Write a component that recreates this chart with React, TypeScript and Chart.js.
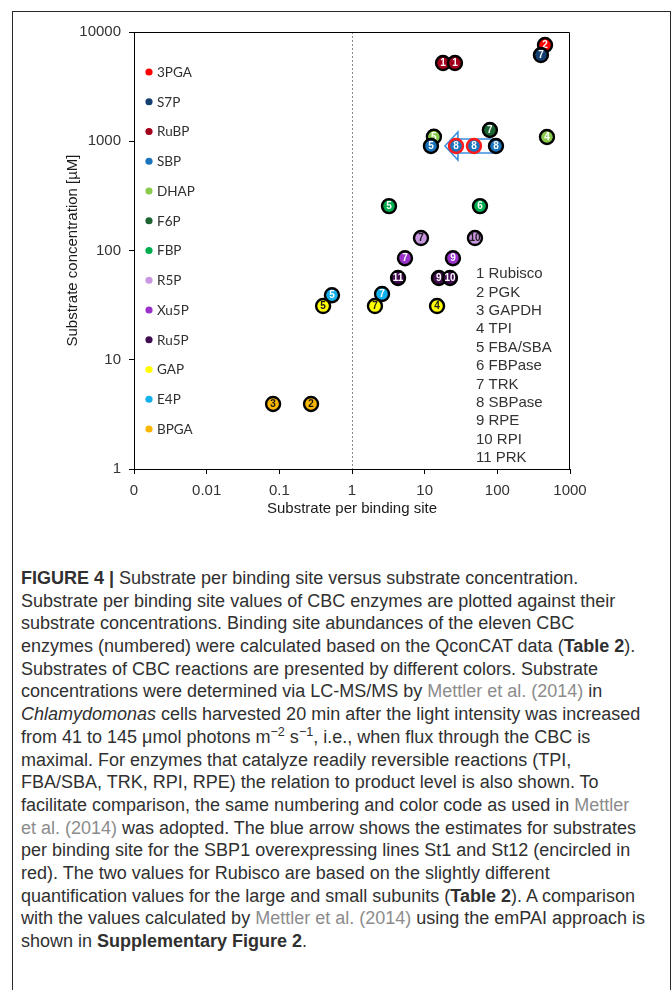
import React, { useEffect, useRef } from 'react';
import { Chart, registerables } from 'chart.js';

Chart.register(...registerables);

// ---------- data ----------
const substrateNames = ['3PGA', 'S7P', 'RuBP', 'SBP', 'DHAP', 'F6P', 'FBP', 'R5P', 'Xu5P', 'Ru5P', 'GAP', 'E4P', 'BPGA'];
const enzymeNames = ['Rubisco', 'PGK', 'GAPDH', 'TPI', 'FBA/SBA', 'FBPase', 'TRK', 'SBPase', 'RPE', 'RPI', 'PRK'];

const pointSubstrate = ['3PGA', 'S7P', 'RuBP', 'RuBP', 'DHAP', 'DHAP', 'F6P', 'SBP', 'SBP', 'SBP', 'SBP', 'FBP', 'FBP', 'R5P', 'R5P', 'Xu5P', 'Xu5P', 'Ru5P', 'Ru5P', 'Ru5P', 'E4P', 'E4P', 'GAP', 'GAP', 'GAP', 'BPGA', 'BPGA'];
const pointEnzyme = [2, 7, 1, 1, 5, 4, 7, 5, 8, 8, 8, 5, 6, 7, 10, 7, 9, 11, 9, 10, 5, 7, 5, 7, 4, 3, 2];
const pointX = [453, 398, 17.9, 26.1, 13.4, 482, 79, 12.2, 27, 47.7, 95.8, 3.23, 57.7, 8.9, 49.2, 5.36, 24.5, 4.3, 15.7, 22.3, 0.53, 2.59, 0.4, 2.07, 14.8, 0.082, 0.273];
const pointY = [7600, 6150, 5200, 5200, 1100, 1094, 1268, 905, 905, 905, 905, 255, 255, 130, 130, 85, 85, 56, 56, 56, 39, 40, 31, 31, 31, 3.94, 3.94];
const overexpressingLine = [false, false, false, false, false, false, false, false, true, true, false, false, false, false, false, false, false, false, false, false, false, false, false, false, false, false, false];

// SBP1 overexpression arrow (from wild-type SBPase value towards lower values)
const arrowTailX = 95.8;
const arrowTipX = 19;
const arrowY = 905;

const xTickValues = [0.001, 0.01, 0.1, 1, 10, 100, 1000];
const xTickLabels = ['0', '0.01', '0.1', '1', '10', '100', '1000'];
const yTickValues = [1, 10, 100, 1000, 10000];
const yTickLabels = ['1', '10', '100', '1000', '10000'];

// ---------- styles ----------
const substrateColors = ['#ff0000', '#143f72', '#a3001c', '#1a73bd', '#8acb4d', '#1c6431', '#00ad4e', '#c897e0', '#9a31c9', '#420c50', '#ffff00', '#12b0ec', '#f9b700'];
const substrateTextColors = ['#fff', '#fff', '#fff', '#fff', '#fff', '#fff', '#fff', '#1a1a1a', '#fff', '#fff', '#1a1a1a', '#fff', '#1a1a1a'];
const drawOrder = ['3PGA', 'S7P', 'RuBP', 'DHAP', 'F6P', 'SBP', 'FBP', 'R5P', 'Xu5P', 'Ru5P', 'E4P', 'GAP', 'BPGA'];

const AXIS_FONT = 'Liberation Sans, Arial, sans-serif';

const overlayPlugin = {
  id: 'overlay',
  beforeDatasetsDraw(chart: any) {
    const { ctx, chartArea, scales } = chart;
    const xs = scales.x;
    const ys = scales.y;
    ctx.save();
    // dashed line at x = 1
    const xd = Math.round(xs.getPixelForValue(1)) + 0.5;
    ctx.strokeStyle = '#8a8a8a';
    ctx.lineWidth = 1;
    ctx.setLineDash([2, 2]);
    ctx.beginPath();
    ctx.moveTo(xd, chartArea.top);
    ctx.lineTo(xd, chartArea.bottom);
    ctx.stroke();
    ctx.setLineDash([]);
    // frame
    ctx.strokeStyle = '#000';
    ctx.beginPath();
    ctx.moveTo(Math.round(chartArea.left) + 0.5, Math.round(chartArea.top) + 0.5);
    ctx.lineTo(Math.round(chartArea.right) - 0.5, Math.round(chartArea.top) + 0.5);
    ctx.lineTo(Math.round(chartArea.right) - 0.5, Math.round(chartArea.bottom));
    ctx.stroke();
    // arrow
    const tail = xs.getPixelForValue(arrowTailX);
    const tip = xs.getPixelForValue(arrowTipX);
    const cy = ys.getPixelForValue(arrowY);
    const headLen = 13;
    const headHalf = 14;
    const shaftHalf = 7;
    ctx.beginPath();
    ctx.moveTo(tip, cy);
    ctx.lineTo(tip + headLen, cy - headHalf);
    ctx.lineTo(tip + headLen, cy - shaftHalf);
    ctx.lineTo(tail, cy - shaftHalf);
    ctx.lineTo(tail, cy + shaftHalf);
    ctx.lineTo(tip + headLen, cy + shaftHalf);
    ctx.lineTo(tip + headLen, cy + headHalf);
    ctx.closePath();
    ctx.fillStyle = '#ffffff';
    ctx.fill();
    ctx.strokeStyle = '#3b8ede';
    ctx.lineWidth = 1.6;
    ctx.stroke();
    ctx.restore();
  },
  afterDatasetDraw(chart: any, args: any) {
    const { ctx } = chart;
    const ds = chart.data.datasets[args.index];
    ctx.save();
    ctx.font = 'bold 10px ' + AXIS_FONT;
    ctx.textAlign = 'center';
    ctx.textBaseline = 'middle';
    ctx.fillStyle = ds.textColor;
    args.meta.data.forEach((el: any, i: number) => {
      ctx.fillText(String(ds.enzymes[i]), el.x, el.y + 0.5);
    });
    ctx.restore();
  },
  afterDraw(chart: any) {
    const { ctx, chartArea } = chart;
    ctx.save();
    // substrate colour key
    ctx.textBaseline = 'middle';
    ctx.textAlign = 'left';
    ctx.font = '13.5px Lato, Carlito, sans-serif';
    substrateNames.forEach((name, i) => {
      const y = chartArea.top + 40 + i * 29.75;
      ctx.beginPath();
      ctx.arc(chartArea.left + 15, y, 3.6, 0, Math.PI * 2);
      ctx.fillStyle = substrateColors[i];
      ctx.fill();
      ctx.fillStyle = '#303030';
      ctx.fillText(name, chartArea.left + 23, y + 0.5);
    });
    // enzyme key
    ctx.font = '15px ' + AXIS_FONT;
    ctx.fillStyle = '#333';
    enzymeNames.forEach((name, i) => {
      const y = chartArea.top + 242 + i * 18.4;
      ctx.fillText(`${i + 1} ${name}`, chartArea.left + 342, y);
    });
    ctx.restore();
  },
};

function ChartView() {
  const ref = useRef<HTMLCanvasElement | null>(null);
  useEffect(() => {
    if (!ref.current) return;
    const datasets = drawOrder.map((sub, di) => {
      const si = substrateNames.indexOf(sub);
      const idx = pointSubstrate.map((s, i) => (s === sub ? i : -1)).filter((i) => i >= 0);
      return {
        label: sub,
        data: idx.map((i) => ({ x: pointX[i], y: pointY[i] })),
        enzymes: idx.map((i) => pointEnzyme[i]),
        textColor: substrateTextColors[si],
        backgroundColor: substrateColors[si],
        borderColor: idx.map((i) => (overexpressingLine[i] ? '#ff1a1a' : '#000000')),
        borderWidth: 2.4,
        pointRadius: 7,
        pointHoverRadius: 7,
        order: drawOrder.length - di,
      } as any;
    });
    const chart = new Chart(ref.current, {
      type: 'scatter',
      data: { datasets },
      options: {
        animation: false,
        responsive: false,
        devicePixelRatio: 1,
        events: [],
        layout: { padding: { top: 32, left: 0, right: 102, bottom: 11 } },
        plugins: { legend: { display: false }, tooltip: { enabled: false } },
        scales: {
          x: {
            type: 'logarithmic',
            min: 0.001,
            max: 1000,
            afterBuildTicks: (scale: any) => {
              scale.ticks = xTickValues.map((v) => ({ value: v }));
            },
            afterFit: (scale: any) => {
              scale.height = 50;
            },
            ticks: {
              autoSkip: false,
              maxRotation: 0,
              padding: 8,
              color: '#333',
              font: { family: AXIS_FONT, size: 15 },
              callback: (_v: any, i: number) => xTickLabels[i],
            },
            grid: { drawOnChartArea: false, drawTicks: true, tickLength: 5, tickColor: '#000', tickWidth: 1 },
            border: { display: true, color: '#000', width: 1 },
            title: {
              display: true,
              text: 'Substrate per binding site',
              color: '#1a1a1a',
              font: { family: AXIS_FONT, size: 15 },
              padding: { top: 0, bottom: 1 },
            },
          },
          y: {
            type: 'logarithmic',
            min: 1,
            max: 10000,
            afterBuildTicks: (scale: any) => {
              scale.ticks = yTickValues.map((v) => ({ value: v }));
            },
            afterFit: (scale: any) => {
              scale.width = 134;
            },
            ticks: {
              autoSkip: false,
              padding: 8,
              color: '#333',
              font: { family: AXIS_FONT, size: 15 },
              callback: (_v: any, i: number) => yTickLabels[i],
            },
            grid: { drawOnChartArea: false, drawTicks: true, tickLength: 5, tickColor: '#000', tickWidth: 1 },
            border: { display: true, color: '#000', width: 1 },
            title: {
              display: true,
              text: 'Substrate concentration [µM]',
              color: '#1a1a1a',
              font: { family: AXIS_FONT, size: 15 },
              padding: { top: 64, bottom: 0 },
            },
          },
        },
      } as any,
      plugins: [overlayPlugin],
    });
    return () => chart.destroy();
  }, []);
  return (
    <canvas
      ref={ref}
      width={672}
      height={530}
      style={{ position: 'absolute', left: 0, top: 0, width: 672, height: 530 }}
    />
  );
}

const link: React.CSSProperties = { color: '#8c8c8c' };
const sup: React.CSSProperties = { fontSize: '0.7em', lineHeight: 0, verticalAlign: '0.55em' };

export default function App() {
  const lines: React.ReactNode[] = [
    <><b>FIGURE 4 |</b> Substrate per binding site versus substrate concentration.</>,
    <>Substrate per binding site values of CBC enzymes are plotted against their</>,
    <>substrate concentrations. Binding site abundances of the eleven CBC</>,
    <>enzymes (numbered) were calculated based on the QconCAT data (<b>Table 2</b>).</>,
    <>Substrates of CBC reactions are presented by different colors. Substrate</>,
    <>concentrations were determined via LC-MS/MS by <span style={link}>Mettler et al. (2014)</span> in</>,
    <><i>Chlamydomonas</i> cells harvested 20 min after the light intensity was increased</>,
    <>from 41 to 145 μmol photons m<span style={sup}>−2</span> s<span style={sup}>−1</span>, i.e., when flux through the CBC is</>,
    <>maximal. For enzymes that catalyze readily reversible reactions (TPI,</>,
    <>FBA/SBA, TRK, RPI, RPE) the relation to product level is also shown. To</>,
    <>facilitate comparison, the same numbering and color code as used in <span style={link}>Mettler</span></>,
    <><span style={link}>et al. (2014)</span> was adopted. The blue arrow shows the estimates for substrates</>,
    <>per binding site for the SBP1 overexpressing lines St1 and St12 (encircled in</>,
    <>red). The two values for Rubisco are based on the slightly different</>,
    <>quantification values for the large and small subunits (<b>Table 2</b>). A comparison</>,
    <>with the values calculated by <span style={link}>Mettler et al. (2014)</span> using the emPAI approach is</>,
    <>shown in <b>Supplementary Figure 2</b>.</>,
  ];
  return (
    <div style={{ position: 'absolute', left: 0, top: 0, width: 672, height: 990, overflow: 'hidden', background: '#fff' }}>
      <div
        style={{
          position: 'absolute',
          left: 12,
          top: 11,
          width: 657,
          height: 1000,
          border: '1px solid #2a2a2a',
          boxSizing: 'content-box',
        }}
      />
      <ChartView />
      <div
        style={{
          position: 'absolute',
          left: 21,
          top: 567,
          fontFamily: '"Liberation Sans", Arial, sans-serif',
          fontSize: 18,
          lineHeight: '22.7px',
          color: '#303030',
        }}
      >
        {lines.map((l, i) => (
          <div key={i} style={{ whiteSpace: 'nowrap', height: 22.7 }}>
            {l}
          </div>
        ))}
      </div>
    </div>
  );
}
